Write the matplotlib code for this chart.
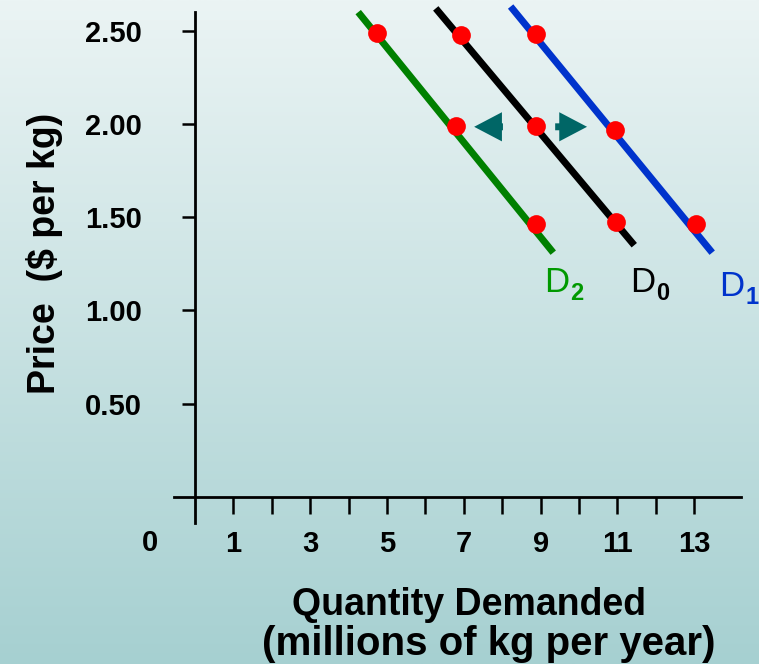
import numpy as np
import matplotlib.pyplot as plt
from matplotlib.colors import LinearSegmentedColormap

plt.rcParams['font.family'] = ['Liberation Sans', 'DejaVu Sans']

# demand curves: line ends and marked points (quantity, price)
d0_line_q = [6.27, 11.44]
d0_line_p = [2.62, 1.35]
d0_q = [6.93, 8.88, 10.97]
d0_p = [2.475, 1.99, 1.475]

d1_line_q = [8.22, 13.47]
d1_line_p = [2.63, 1.31]
d1_q = [8.88, 10.94, 13.05]
d1_p = [2.485, 1.97, 1.464]

d2_line_q = [4.25, 9.33]
d2_line_p = [2.60, 1.31]
d2_q = [4.73, 6.80, 8.88]
d2_p = [2.49, 1.99, 1.464]

y_ticks = [0.5, 1.0, 1.5, 2.0, 2.5]
y_labels = ['0.50', '1.00', '1.50', '2.00', '2.50']
x_ticks = list(range(1, 14))
x_labels = [str(t) if t % 2 == 1 else '' for t in x_ticks]

fig = plt.figure(figsize=(7.59, 6.64), dpi=100)

# background gradient
bg = fig.add_axes([0, 0, 1, 1], zorder=-10)
cmap = LinearSegmentedColormap.from_list('bg', ['#A6D0D1', '#EBF4F4'])
grad = np.linspace(0, 1, 256).reshape(-1, 1)
bg.imshow(grad, aspect='auto', cmap=cmap, origin='lower', extent=[0, 1, 0, 1])
bg.axis('off')

ax = fig.add_axes([0.2286, 0.2123, 0.7477, 0.770])
ax.set_facecolor('none')
ax.set_xlim(-0.56, 14.22)
ax.set_ylim(-0.14, 2.602)

for s in ['top', 'right']:
    ax.spines[s].set_visible(False)
ax.spines['left'].set_position(('data', 0))
ax.spines['bottom'].set_position(('data', 0))
ax.spines['left'].set_linewidth(2)
ax.spines['bottom'].set_linewidth(2)

ax.set_yticks(y_ticks)
ax.set_yticklabels(y_labels, fontsize=21, fontweight='bold')
ax.tick_params(axis='y', direction='out', length=9.5, width=1.8, pad=29)
ax.set_xticks(x_ticks)
ax.set_xticklabels(x_labels, fontsize=21, fontweight='bold')
ax.tick_params(axis='x', direction='out', length=12, width=1.8, pad=12)

ax.text(-1.17, -0.247, '0', fontsize=21, fontweight='bold', ha='center', va='center', clip_on=False)

curves = [
    (d2_line_q, d2_line_p, d2_q, d2_p, '#008000'),
    (d0_line_q, d0_line_p, d0_q, d0_p, '#000000'),
    (d1_line_q, d1_line_p, d1_q, d1_p, '#0033CC'),
]
for lq, lp, q, p, c in curves:
    ax.plot(lq, lp, color=c, lw=5, solid_capstyle='butt', clip_on=False, zorder=3)
    ax.plot(q, p, 'o', color='#FF0000', ms=13.5, mec='none', clip_on=False, zorder=4)

# shift arrows
arrow_style = 'simple,head_length=20,head_width=21,tail_width=5'
ax.annotate('', xy=(7.27, 1.985), xytext=(8.02, 1.985),
            arrowprops=dict(arrowstyle=arrow_style, color='#006666', mutation_scale=1,
                            shrinkA=0, shrinkB=0, lw=0))
ax.annotate('', xy=(10.21, 1.985), xytext=(9.38, 1.985),
            arrowprops=dict(arrowstyle=arrow_style, color='#006666', mutation_scale=1,
                            shrinkA=0, shrinkB=0, lw=0))

# curve labels: "D" plus bold subscript
labels = [('2', 9.08, 1.099, '#009900'), ('0', 11.32, 1.099, '#000000'), ('1', 13.66, 1.078, '#0033CC')]
for sub, x, y, c in labels:
    ax.text(x, y, 'D', color=c, fontsize=25, ha='left', va='baseline', clip_on=False)
    ax.text(x + 0.68, y - 0.045, sub, color=c, fontsize=17, fontweight='bold',
            ha='left', va='baseline', clip_on=False)

fig.text(469 / 759, 1 - 615 / 664, 'Quantity Demanded', fontsize=27, fontweight='bold',
         ha='center', va='baseline')
fig.text(489 / 759, 1 - 655 / 664, '(millions of kg per year)', fontsize=29, fontweight='bold',
         ha='center', va='baseline')
fig.text(63 / 759, 1 - 253.5 / 664, 'Price  ($ per kg)', fontsize=27, fontweight='bold',
         rotation=90, ha='right', va='center')

fig.savefig('out.png', dpi=100)
